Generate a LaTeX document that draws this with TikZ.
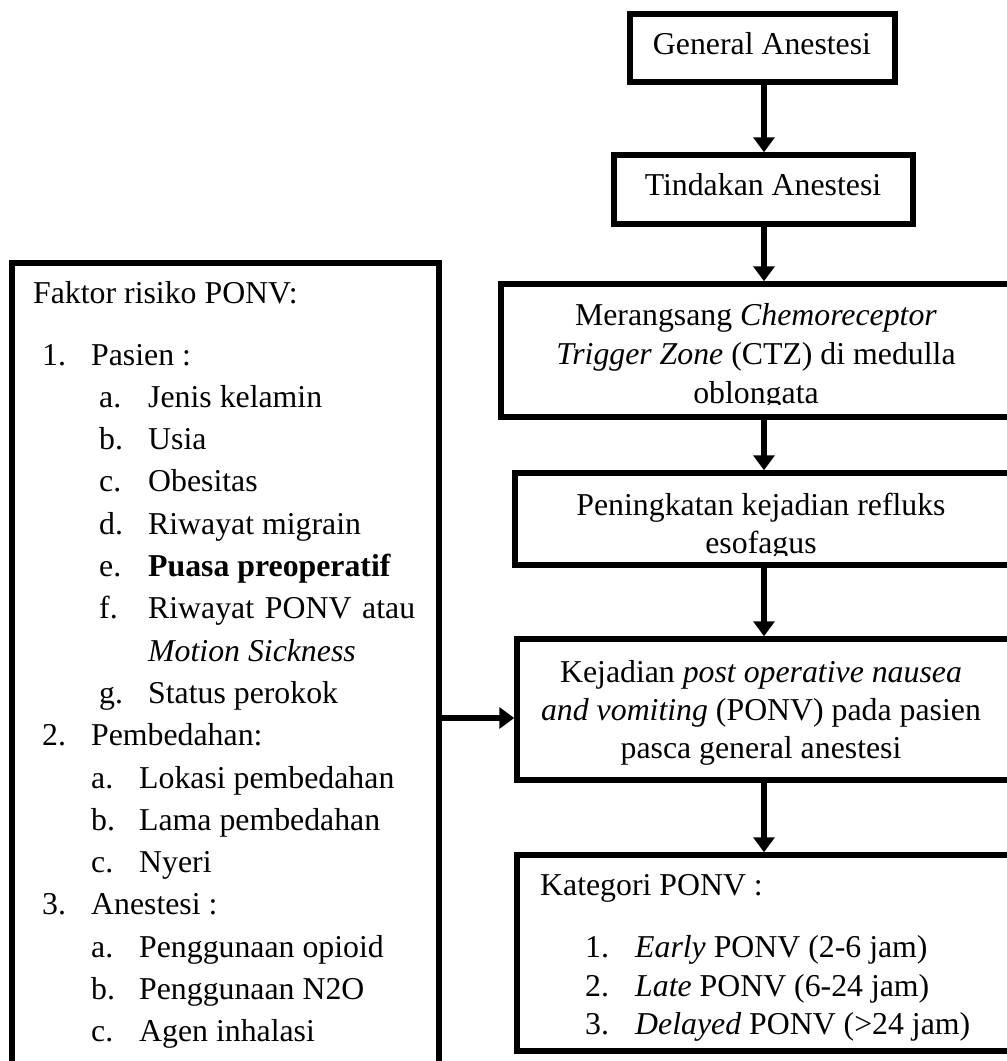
\documentclass[tikz,border=0pt]{standalone}
\usepackage{fontspec}
\setmainfont{Liberation Serif}
\usetikzlibrary{arrows.meta}
\tikzset{
  box/.style={draw, line width=5.5pt, rectangle, inner sep=0pt},
  arr/.style={line width=5.5pt, -{Triangle[width=21pt,length=15pt]}},
  txt/.style={inner sep=0pt, anchor=base, font=\fontsize{31.8}{39}\selectfont},
  txtl/.style={inner sep=0pt, anchor=base west, font=\fontsize{31.8}{42.3}\selectfont},
}
\begin{document}
\begin{tikzpicture}[x=1pt,y=-1pt]
\useasboundingbox (0,0) rectangle (1007,1061);
\clip (0,0) rectangle (1007,1061);
\fill[white] (0,0) rectangle (1007,1061);

% boxes
\node[box, minimum width=265pt, minimum height=68pt] (b1) at (762.5,48) {};
\node[box, minimum width=299pt, minimum height=69pt] (b2) at (763.5,189.5) {};
\node[box, minimum width=539pt, minimum height=133pt] (b3) at (770.5,350.5) {};
\node[box, minimum width=525pt, minimum height=92pt] (b4) at (777.5,519) {};
\node[box, minimum width=523pt, minimum height=141pt] (b5) at (778.5,709.5) {};
\node[box, minimum width=523pt, minimum height=196pt] (b6) at (778.5,953) {};
\node[box, minimum width=427pt, minimum height=827pt] (lb) at (225.5,676.5) {};

% texts
\node[txt] (t1) at (762,54) {General Anestesi};
\node[txt] (t2) at (763,195) {Tindakan Anestesi};
\begin{scope}
\clip (490,270) rectangle (1007,404);
\node[txt] (t3) at (756,325) {\begin{tabular}[t]{@{}c@{}}Merangsang \textit{Chemoreceptor}\\ \textit{Trigger Zone} (CTZ) di medulla\\ oblongata\end{tabular}};
\end{scope}
\begin{scope}
\clip (505,470) rectangle (1007,555);
\node[txt, font=\fontsize{31.8}{38}\selectfont] (t4) at (761,515) {\begin{tabular}[t]{@{}c@{}}Peningkatan kejadian refluks\\ esofagus\end{tabular}};
\end{scope}
\node[txt, font=\fontsize{31.8}{38}\selectfont] (t5) at (761,682) {\begin{tabular}[t]{@{}c@{}}Kejadian \textit{post operative nausea}\\ \textit{and vomiting} (PONV) pada pasien\\ pasca general anestesi\end{tabular}};
\begin{scope}
\clip (505,850) rectangle (1007,1041);
\node[txtl, font=\fontsize{31.8}{38.5}\selectfont] (t6) at (540,895) {\begin{tabular}[t]{@{}l@{}}Kategori PONV :\\[24pt]
\hspace{45pt}\makebox[50pt][l]{1.}\textit{Early} PONV (2-6 jam)\\
\hspace{45pt}\makebox[50pt][l]{2.}\textit{Late} PONV (6-24 jam)\\
\hspace{45pt}\makebox[50pt][l]{3.}\textit{Delayed} PONV (>24 jam)\end{tabular}};
\end{scope}
\node[txtl] (t7) at (33,303) {\begin{tabular}[t]{@{}l@{}}Faktor risiko PONV:\\[19.7pt]
\hspace{9pt}\makebox[49pt][l]{1.}Pasien :\\
\hspace{66pt}\makebox[49pt][l]{a.}Jenis kelamin\\
\hspace{66pt}\makebox[49pt][l]{b.}Usia\\
\hspace{66pt}\makebox[49pt][l]{c.}Obesitas\\
\hspace{66pt}\makebox[49pt][l]{d.}Riwayat migrain\\
\hspace{66pt}\makebox[49pt][l]{e.}\textbf{Puasa preoperatif}\\
\hspace{66pt}\makebox[49pt][l]{f.}\makebox[267pt][s]{Riwayat PONV atau}\\
\hspace{115pt}\textit{Motion Sickness}\\
\hspace{66pt}\makebox[49pt][l]{g.}Status perokok\\
\hspace{9pt}\makebox[49pt][l]{2.}Pembedahan:\\
\hspace{58pt}\makebox[48pt][l]{a.}Lokasi pembedahan\\
\hspace{58pt}\makebox[48pt][l]{b.}Lama pembedahan\\
\hspace{58pt}\makebox[48pt][l]{c.}Nyeri\\
\hspace{9pt}\makebox[49pt][l]{3.}Anestesi :\\
\hspace{58pt}\makebox[48pt][l]{a.}Penggunaan opioid\\
\hspace{58pt}\makebox[48pt][l]{b.}Penggunaan N2O\\
\hspace{58pt}\makebox[48pt][l]{c.}Agen inhalasi\end{tabular}};

% connectors
\coordinate (ax) at (764,0);
\coordinate (lj) at (439,718);
\draw[arr] (ax |- b1.south) -- (ax |- b2.north);
\draw[arr] (ax |- b2.south) -- (ax |- b3.north);
\draw[arr] (ax |- b3.south) -- (ax |- b4.north);
\draw[arr] (ax |- b4.south) -- (ax |- b5.north);
\draw[arr] (ax |- b5.south) -- (ax |- b6.north);
\draw[arr] (lj) -- (lj -| b5.west);
\end{tikzpicture}
\end{document}
